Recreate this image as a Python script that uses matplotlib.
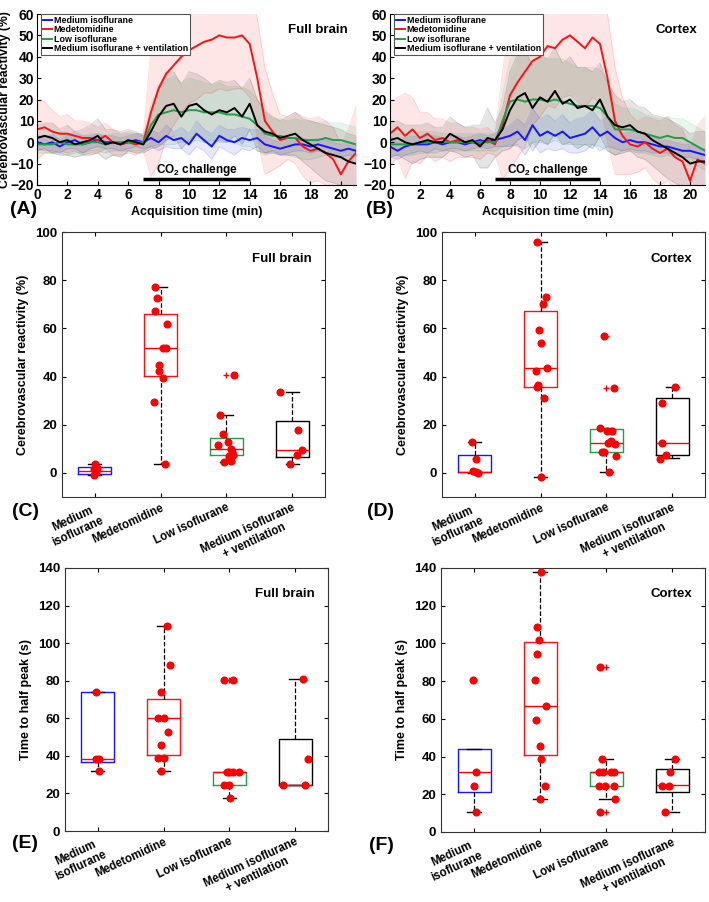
import numpy as np
import matplotlib.pyplot as plt

plt.rcParams['font.family'] = ['Liberation Sans', 'DejaVu Sans']
plt.rcParams['font.weight'] = 'bold'
plt.rcParams['axes.labelweight'] = 'bold'
plt.rcParams['mathtext.fontset'] = 'custom'
plt.rcParams['mathtext.rm'] = 'Liberation Sans:bold'
plt.rcParams['mathtext.bf'] = 'Liberation Sans:bold'

# ---- data ----
groups = ['Medium isoflurane', 'Medetomidine', 'Low isoflurane',
          'Medium isoflurane + ventilation']
group_ticks = ['Medium\nisoflurane', 'Medetomidine', 'Low isoflurane',
               'Medium isoflurane\n+ ventilation']
colors = ['#1414ff', '#ff1010', '#1f9e45', '#000000']

time_min = np.arange(0, 21.01, 0.5)

# (A) full brain mean traces (%)
brain_med_iso = [0, -1, 0, -2, 0, 1, -1, 0, 1, 0, 0, -1, 0, 1, 0, 2, 0, 3, 1, 2,
                 -1, 4, 1, -2, 3, 1, 0, 2, 1, 2, -1, -2, -3, -2, -1, -1, -2, -1, -2, -3,
                 -4, -3, -4]
brain_medeto = [6, 7, 5, 4, 4, 3, 2, 2, 1, 3, 0, -1, 0, -1, 0, 14, 25, 32, 36, 40,
                43, 45, 47, 48, 50, 49, 49, 50, 46, 30, 10, 5, 1, 2, 2, -2, -4, -3, -5, -8,
                -15, -9, -5]
brain_low_iso = [-1, -1, -1, 0, -1, -1, -1, 0, 0, -1, 0, 0, 0, 0, 0, 8, 13, 14, 15, 14,
                 15, 15, 14, 14, 14, 13, 13, 12, 11, 8, 4, 3, 3, 2, 2, 1, 1, 1, 2, 1,
                 1, 0, -1]
brain_vent = [2, 3, 2, 0, 1, -1, 0, 1, 3, -1, 0, -1, 1, 0, -1, 5, 12, 17, 18, 12,
              17, 18, 15, 13, 15, 14, 16, 12, 18, 8, 5, 4, 2, 3, 4, 1, -1, -3, -5, -6,
              -7, -9, -10]
# standard deviations (shaded)
brain_med_iso_sd = [3, 3, 4, 3, 3, 4, 4, 3, 3, 3, 3, 3, 3, 3, 3, 4, 4, 5, 4, 5,
                    5, 6, 5, 6, 5, 5, 6, 5, 5, 4, 4, 3, 3, 3, 3, 3, 3, 3, 3, 3,
                    3, 3, 3]
brain_medeto_sd = [14, 12, 10, 8, 9, 7, 8, 7, 6, 6, 6, 5, 5, 5, 4, 30, 35, 30, 28, 26,
                   25, 25, 24, 25, 25, 25, 24, 25, 25, 28, 25, 18, 12, 10, 12, 14, 15, 15, 15, 15,
                   14, 15, 22]
brain_low_iso_sd = [4, 4, 4, 5, 5, 4, 4, 4, 4, 4, 4, 4, 4, 4, 4, 10, 14, 15, 16, 14,
                    15, 14, 14, 13, 14, 13, 13, 14, 13, 12, 10, 8, 8, 8, 9, 9, 9, 8, 8, 8,
                    8, 8, 8]
brain_vent_sd = [6, 6, 7, 6, 7, 6, 6, 7, 8, 7, 6, 6, 5, 5, 4, 8, 14, 16, 15, 15,
                 16, 14, 15, 14, 14, 14, 13, 13, 12, 12, 10, 8, 8, 9, 10, 10, 11, 12, 13, 13,
                 13, 13, 13]

# (B) cortex mean traces (%)
ctx_med_iso = [-2, -4, -2, -1, -1, -1, 0, -1, 0, 0, -1, 0, 1, 0, 1, 2, 3, 5, 1, 8,
               3, 5, 3, 5, 2, 3, 4, 7, 3, 5, 2, 0, 1, 0, 0, -1, -2, -2, -3, -4,
               -4, -5, -6]
ctx_medeto = [4, 7, 3, 6, 2, 4, 1, 2, 0, 1, 0, 0, -1, 1, -1, 8, 22, 28, 33, 38,
              40, 45, 44, 48, 50, 47, 44, 49, 46, 30, 10, 3, -1, -2, 0, -3, -5, -3, -7, -9,
              -18, -8, -10]
ctx_low_iso = [-1, -1, -1, -1, 0, 0, 0, 0, 0, 0, 0, 0, 0, 0, 0, 10, 19, 20, 19, 20,
               20, 19, 20, 19, 18, 17, 17, 17, 16, 12, 6, 6, 6, 5, 4, 3, 2, 3, 2, 2,
               0, -2, -4]
ctx_vent = [1, 2, 0, -1, 0, 1, 0, 0, 4, 2, 0, 1, -2, 2, 1, 6, 15, 21, 23, 16,
            21, 19, 24, 18, 20, 16, 17, 15, 20, 12, 8, 7, 8, 5, 4, 1, -1, -3, -5, -7,
            -10, -9, -9]
ctx_med_iso_sd = [5, 4, 4, 4, 3, 4, 3, 3, 3, 3, 3, 3, 3, 3, 3, 4, 5, 6, 7, 8,
                  8, 8, 7, 8, 7, 8, 8, 8, 7, 7, 5, 4, 4, 4, 4, 4, 3, 3, 3, 3,
                  3, 3, 3]
ctx_medeto_sd = [15, 14, 20, 15, 12, 10, 10, 9, 9, 8, 7, 7, 7, 6, 5, 25, 35, 35, 35, 30,
                 28, 28, 28, 27, 28, 28, 28, 28, 28, 30, 25, 18, 14, 12, 12, 14, 15, 15, 15, 15,
                 15, 16, 22]
ctx_low_iso_sd = [5, 5, 5, 5, 5, 5, 5, 4, 4, 4, 4, 4, 4, 4, 4, 12, 20, 22, 22, 20,
                  20, 20, 19, 20, 19, 18, 18, 18, 18, 16, 12, 10, 10, 10, 9, 9, 9, 9, 9, 9,
                  9, 9, 9]
ctx_vent_sd = [8, 8, 8, 9, 8, 8, 7, 7, 8, 7, 7, 7, 10, 14, 8, 10, 18, 20, 20, 20,
               20, 20, 20, 19, 20, 19, 18, 18, 17, 16, 14, 12, 12, 12, 12, 12, 13, 14, 14, 14,
               14, 14, 14]

# (C) full brain reactivity (%)
c_q1 = [-0.5, 40.2, 7.4, 6.7]
c_med = [0.7, 51.7, 10.1, 9.7]
c_q3 = [2.5, 66.0, 14.3, 21.6]
c_lo = [-1.0, 3.7, 4.6, 3.9]
c_hi = [3.5, 77.1, 24.0, 33.4]
c_fliers = [[], [], [40.6], []]
c_points = [[3.5, 2.2, 1.5, 0.5, -1.0],
            [77.1, 72.4, 67.3, 62.0, 51.7, 51.7, 44.9, 42.3, 39.5, 29.4, 3.7],
            [40.6, 24.0, 16.0, 12.9, 11.5, 9.8, 8.7, 7.6, 6.9, 5.0, 4.6],
            [33.4, 18.0, 9.7, 7.6, 3.9]]
c_jitter = [[0.0, 0.03, -0.02, 0.01, -0.02],
            [-0.09, -0.05, -0.09, 0.09, 0.03, 0.08, -0.02, -0.02, 0.03, -0.1, 0.07],
            [0.11, -0.1, -0.05, 0.03, -0.12, 0.07, 0.09, 0.1, 0.04, 0.07, -0.04],
            [-0.19, 0.09, 0.15, 0.08, -0.03]]

# (D) cortex reactivity (%)
d_q1 = [0.3, 35.7, 8.6, 7.4]
d_med = [0.5, 43.5, 12.6, 12.4]
d_q3 = [7.6, 67.4, 18.1, 31.0]
d_lo = [0.0, -1.7, 0.4, 6.0]
d_hi = [12.9, 95.8, 18.8, 35.8]
d_fliers = [[], [], [35.1, 56.8], []]
d_points = [[12.9, 5.8, 0.6, 0.4, 0.0],
            [95.8, 72.9, 70.1, 59.2, 53.8, 43.5, 42.1, 36.5, 35.6, 31.1, -1.7],
            [56.8, 35.1, 18.8, 17.4, 17.3, 13.2, 12.4, 11.8, 8.6, 8.6, 7.1, 0.4],
            [35.8, 29.2, 12.4, 7.6, 5.8]]
d_jitter = [[-0.04, 0.01, -0.03, 0.02, 0.05],
            [-0.05, 0.08, 0.03, -0.02, 0.0, 0.09, -0.07, -0.04, -0.06, 0.05, 0.0],
            [-0.03, 0.11, -0.1, 0.01, 0.08, 0.07, 0.03, 0.13, -0.06, -0.04, 0.14, 0.04],
            [0.04, -0.15, -0.15, -0.1, -0.19]]

# (E) full brain time to half peak (s)
e_q1 = [36.7, 40.3, 24.6, 24.6]
e_med = [38.5, 59.9, 31.6, 24.6]
e_q3 = [74.0, 70.4, 31.6, 49.2]
e_lo = [31.7, 31.7, 17.8, 24.6]
e_hi = [74.0, 109.3, 31.6, 80.8]
e_fliers = [[], [], [80.5], []]
e_points = [[74.0, 38.5, 38.5, 31.7],
            [109.3, 88.3, 74.2, 59.9, 59.9, 52.8, 45.7, 38.7, 38.7, 31.7],
            [80.5, 80.5, 31.6, 31.6, 31.6, 31.6, 24.6, 24.6, 17.8],
            [80.8, 38.5, 24.6, 24.6]]
e_jitter = [[-0.03, -0.03, 0.02, 0.01],
            [0.05, 0.09, -0.04, -0.09, 0.0, 0.07, -0.04, -0.08, 0.0, -0.04],
            [-0.08, 0.06, -0.04, 0.0, 0.05, 0.14, -0.08, -0.01, 0.01],
            [0.12, 0.2, -0.18, 0.15]]

# (F) cortex time to half peak (s)
f_q1 = [21.0, 40.7, 24.6, 21.0]
f_med = [31.7, 66.9, 31.6, 24.8]
f_q3 = [44.2, 100.8, 31.6, 33.5]
f_lo = [10.5, 17.7, 17.7, 10.5]
f_hi = [44.2, 137.9, 38.5, 38.9]
f_fliers = [[80.5], [], [87.5, 10.5], []]
f_points = [[80.5, 31.7, 24.6, 10.5],
            [137.9, 108.7, 101.6, 94.6, 80.5, 66.9, 59.5, 45.5, 38.5, 24.6, 17.7],
            [87.5, 38.5, 31.6, 31.6, 31.6, 31.6, 24.6, 24.6, 24.6, 17.7, 10.5],
            [38.5, 31.6, 24.6, 24.6, 10.5]]
f_jitter = [[-0.02, 0.03, 0.0, 0.03],
            [0.01, -0.05, -0.01, -0.04, -0.07, 0.09, -0.06, 0.0, 0.02, 0.08, 0.0],
            [-0.09, -0.06, -0.11, -0.05, 0.08, 0.12, -0.11, -0.02, 0.12, 0.14, -0.09],
            [0.04, -0.03, -0.15, -0.05, -0.1]]

W, H = 709, 902


def axes_px(fig, left, top, right, bottom):
    return fig.add_axes([left / W, 1 - bottom / H, (right - left) / W, (bottom - top) / H])


def draw_traces(ax, means, sds, region, ylabel):
    for m, s, c in zip(means, sds, colors):
        m = np.array(m, float)
        s = np.array(s, float)
        ax.fill_between(time_min, m - s, m + s, color=c, alpha=0.10, lw=0)
        ax.plot(time_min, m + s, color=c, alpha=0.15, lw=0.6)
        ax.plot(time_min, m - s, color=c, alpha=0.15, lw=0.6)
    for m, c, lab in zip(means, colors, groups):
        ax.plot(time_min, m, color=c, lw=1.4, label=lab)
    ax.plot([7, 14], [-17.3, -17.3], color='k', lw=2.5, solid_capstyle='butt')
    ax.text(10.5, -12.8, r'CO$_2$ challenge', ha='center', va='center', fontsize=8.5)
    ax.set_xlim(0, 21)
    ax.set_ylim(-20, 60)
    ax.set_xticks(range(0, 21, 2))
    ax.set_yticks(range(-20, 61, 10))
    ax.tick_params(direction='in', labelsize=10, length=3, pad=2)
    for sp in ['top', 'right']:
        ax.spines[sp].set_visible(False)
    ax.set_xlabel('Acquisition time (min)', fontsize=9, labelpad=3)
    if ylabel:
        ax.set_ylabel('Cerebrovascular reactivity (%)', fontsize=8.8)
        ax.yaxis.set_label_coords(-0.083, 0.5)
    ax.text(0.975, 0.94, region, transform=ax.transAxes, ha='right', va='top', fontsize=9.5)
    leg = ax.legend(loc='upper left', bbox_to_anchor=(0.013, 1.0), borderaxespad=0,
                    fontsize=6.4, frameon=True, fancybox=False, framealpha=1,
                    edgecolor='#555555', handlelength=1.0, handletextpad=0.2,
                    labelspacing=0.05, borderpad=0.2)
    leg.get_frame().set_linewidth(0.8)


def draw_boxes(ax, q1, med, q3, lo, hi, fliers, points, jitter, ylim, yticks, ylabel, region):
    for i in range(4):
        stats = dict(q1=q1[i], med=med[i], q3=q3[i], whislo=lo[i], whishi=hi[i],
                     fliers=fliers[i])
        ax.bxp([stats], positions=[i + 1], widths=0.5, capwidths=0.2, manage_ticks=False,
               boxprops=dict(color=colors[i], lw=1),
               medianprops=dict(color='red', lw=1),
               whiskerprops=dict(color='k', ls='--', lw=0.9),
               capprops=dict(color='k', lw=1),
               flierprops=dict(marker='+', markeredgecolor='red', markersize=4,
                               linestyle='none'))
        ax.plot(i + 1 + np.array(jitter[i]), points[i], 'o', color='red', ms=4.8,
                mec='red', zorder=5)
    ax.set_xlim(0.5, 4.5)
    ax.set_ylim(*ylim)
    ax.set_yticks(yticks)
    ax.set_xticks([1, 2, 3, 4])
    ax.set_xticklabels(group_ticks, rotation=25, ha='right', rotation_mode='anchor',
                       multialignment='center', fontsize=8.3)
    ax.tick_params(direction='in', top=True, right=True, length=3)
    ax.tick_params(axis='y', labelsize=9.5)
    for sp in ax.spines.values():
        sp.set_color('#333333')
    ax.set_ylabel(ylabel, fontsize=9, labelpad=4)
    ax.text(0.95, 0.9, region, transform=ax.transAxes, ha='right', va='center', fontsize=9.5)


fig = plt.figure(figsize=(W / 100, H / 100), dpi=100)

ax_a = axes_px(fig, 37, 14, 356, 185)
draw_traces(ax_a, [brain_med_iso, brain_medeto, brain_low_iso, brain_vent],
            [brain_med_iso_sd, brain_medeto_sd, brain_low_iso_sd, brain_vent_sd],
            'Full brain', True)
ax_b = axes_px(fig, 390, 14, 705, 185)
draw_traces(ax_b, [ctx_med_iso, ctx_medeto, ctx_low_iso, ctx_vent],
            [ctx_med_iso_sd, ctx_medeto_sd, ctx_low_iso_sd, ctx_vent_sd],
            'Cortex', False)

ax_c = axes_px(fig, 62, 232, 325, 497)
draw_boxes(ax_c, c_q1, c_med, c_q3, c_lo, c_hi, c_fliers, c_points, c_jitter,
           (-10, 100), range(0, 101, 20), 'Cerebrovascular reactivity (%)', 'Full brain')
ax_d = axes_px(fig, 442, 232, 705, 497)
draw_boxes(ax_d, d_q1, d_med, d_q3, d_lo, d_hi, d_fliers, d_points, d_jitter,
           (-10, 100), range(0, 101, 20), 'Cerebrovascular reactivity (%)', 'Cortex')
ax_e = axes_px(fig, 65, 568, 328, 831)
draw_boxes(ax_e, e_q1, e_med, e_q3, e_lo, e_hi, e_fliers, e_points, e_jitter,
           (0, 140), range(0, 141, 20), 'Time to half peak (s)', 'Full brain')
ax_f = axes_px(fig, 441, 568, 705, 832)
draw_boxes(ax_f, f_q1, f_med, f_q3, f_lo, f_hi, f_fliers, f_points, f_jitter,
           (0, 140), range(0, 141, 20), 'Time to half peak (s)', 'Cortex')

for lab, x, y in [('(A)', 10, 209), ('(B)', 366, 209), ('(C)', 12, 512),
                  ('(D)', 367, 512), ('(E)', 12, 844), ('(F)', 369, 845)]:
    fig.text(x / W, 1 - y / H, lab, fontsize=14, fontweight='bold', va='center', ha='left')

fig.savefig('out.png', dpi=100)
